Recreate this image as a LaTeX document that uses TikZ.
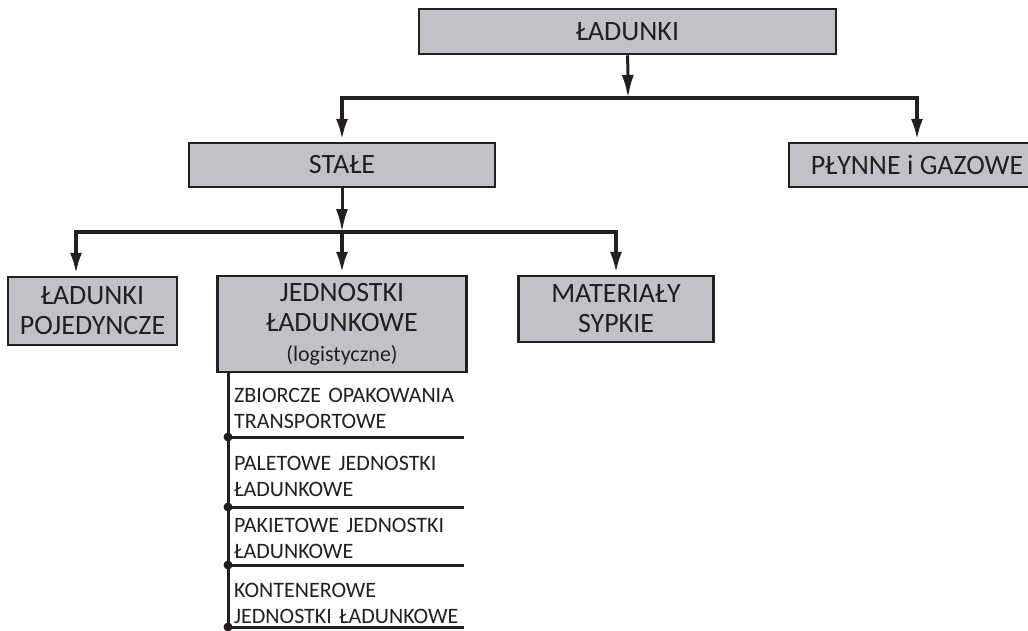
\documentclass[tikz,border=0pt]{standalone}
\usepackage{fontspec}
\setmainfont{Carlito}
\usetikzlibrary{arrows.meta}
\definecolor{boxgray}{RGB}{193,194,197}
\definecolor{ink}{RGB}{35,31,32}

\begin{document}
\begin{tikzpicture}[x=1pt, y=-1pt,
	main/.style = {draw=ink, line width=2.5pt, fill=boxgray, text=ink, inner sep=0pt, align=center, font=\fontsize{28}{30}\selectfont},
	bus/.style = {draw=ink, line width=4.5pt},
	link/.style = {draw=ink, line width=3pt, -{Latex[length=23pt,width=12pt]}},
	tip/.style = {{Latex[length=23pt,width=12pt]}-{Latex[length=23pt,width=12pt]}},
	item/.style = {anchor=south west, inner sep=0pt, text width=230pt, align=left, text=ink, font=\fontsize{22}{26}\selectfont},
	rule/.style = {draw=ink, line width=3pt}]
	\useasboundingbox (0,0) rectangle (1028,630);
	\node[main, minimum width=417pt, minimum height=45pt] (ladunki) at (627.5,31.5) {ŁADUNKI};
	\node[main, minimum width=306pt, minimum height=44pt] (stale) at (342,165) {STAŁE};
	\node[main, minimum width=256pt, minimum height=44pt] (plynne) at (917,165) {PŁYNNE i GAZOWE};
	\node[main, minimum width=169pt, minimum height=68pt] (pojedyncze) at (92.5,311) {ŁADUNKI\\POJEDYNCZE};
	\node[main, minimum width=249pt, minimum height=96pt] (jednostki) at (342,324) {JEDNOSTKI\\ŁADUNKOWE\\{\fontsize{22}{28}\selectfont(logistyczne)}};
	\node[main, minimum width=195pt, minimum height=66pt] (materialy) at (616,309) {MATERIAŁY\\SYPKIE};
	\coordinate (hub1) at (628,98);
	\coordinate (hub2) at (342,232);
	\draw[link] (ladunki) -- (hub1);
	\draw[bus, tip] (stale.north) |- (hub1) -| (plynne.north);
	\draw[link] (stale) -- (hub2);
	\draw[bus, tip] ([xshift=-16.5pt]pojedyncze.north) |- (hub2) -| (materialy.north);
	\draw[bus, -{Latex[length=23pt,width=12pt]}] (hub2) -- (jednostki.north);
	% lista jednostek
	\coordinate (s1) at (228,437);
	\coordinate (s2) at (228,507);
	\coordinate (s3) at (228,565);
	\coordinate (s4) at (228,627);
	\node[item] (z1) at (234,429) {ZBIORCZE OPAKOWANIA\\TRANSPORTOWE};
	\node[item] (z2) at (234,497) {PALETOWE JEDNOSTKI\\ŁADUNKOWE};
	\node[item] (z3) at (234,559) {PAKIETOWE JEDNOSTKI\\ŁADUNKOWE};
	\node[item] (z4) at (234,624) {KONTENEROWE\\JEDNOSTKI ŁADUNKOWE};
	\draw[rule] (jednostki.south -| s1) -- (s4);
	\draw[rule] (s1) -- (z1.south east |- s1);
	\draw[rule] (s2) -- (z2.south east |- s2);
	\draw[rule] (s3) -- (z3.south east |- s3);
	\draw[rule] (s4) -- (z4.south east |- s4);
	\fill[ink] (s1) circle (4.5pt);
	\fill[ink] (s2) circle (4.5pt);
	\fill[ink] (s3) circle (4.5pt);
	\fill[ink] (s4) circle (4.5pt);
\end{tikzpicture}
\end{document}
